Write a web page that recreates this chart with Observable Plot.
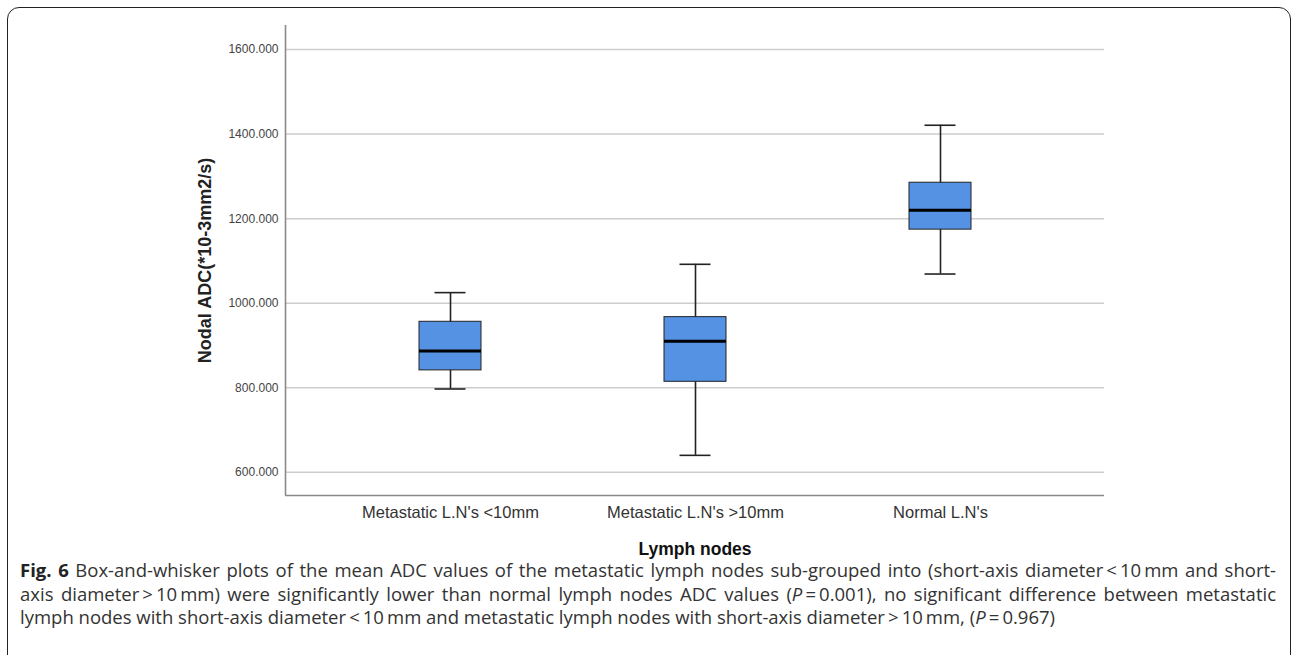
<!DOCTYPE html>
<html>
<head>
<meta charset="utf-8">
<script src="https://cdn.jsdelivr.net/npm/d3@7"></script>
<script src="https://cdn.jsdelivr.net/npm/@observablehq/plot@0.6"></script>
<style>
  html, body { margin: 0; padding: 0; background: #fff; overflow: hidden; }
  #page { position: relative; width: 1292px; height: 655px; overflow: hidden; }
  #border { position: absolute; left: 7px; top: 7px; width: 1284px; height: 680px;
            border: 1.6px solid #222; border-radius: 12px; box-sizing: border-box; }
  #chart { position: absolute; left: 0; top: 0; }
  #caption { position: absolute; left: 20px; top: 558px; width: 1256px;
             font-family: "Open Sans", "Noto Sans", sans-serif; font-size: 18.5px;
             line-height: 23.5px; color: #333; }
  #caption div { white-space: nowrap; }
  #caption .j { text-align: justify; text-align-last: justify; }
  #caption b { color: #222; }
</style>
</head>
<body>
<div id="page">
  <div id="border"></div>
  <div id="chart"></div>
  <div id="caption">
    <div class="j"><b>Fig. 6</b> Box-and-whisker plots of the mean ADC values of the metastatic lymph nodes sub-grouped into (short-axis diameter&thinsp;&lt;&thinsp;10&thinsp;mm and short-</div>
    <div class="j">axis diameter&thinsp;&gt;&thinsp;10&thinsp;mm) were significantly lower than normal lymph nodes ADC values (<i>P</i>&thinsp;=&thinsp;0.001), no significant difference between metastatic</div>
    <div>lymph nodes with short-axis diameter&thinsp;&lt;&thinsp;10&thinsp;mm and metastatic lymph nodes with short-axis diameter&thinsp;&gt;&thinsp;10&thinsp;mm, (<i>P</i>&thinsp;=&thinsp;0.967)</div>
  </div>
</div>
<script>
const groups = ["Metastatic L.N's <10mm", "Metastatic L.N's >10mm", "Normal L.N's"];
const mins    = [797, 640, 1069];
const q1s     = [841, 814, 1174];
const medians = [887, 910, 1220];
const q3s     = [956, 967, 1285];
const maxs    = [1025, 1092, 1421];
const yTicks  = [600, 800, 1000, 1200, 1400, 1600];
const yLabel  = "Nodal ADC(*10-3mm2/s)";
const xLabel  = "Lymph nodes";

const rows = groups.map((g, i) => ({group: g, min: mins[i], q1: q1s[i], median: medians[i], q3: q3s[i], max: maxs[i]}));
const yMin = 545, yMax = 1657;

const chart = Plot.plot({
  width: 1292,
  height: 560,
  marginLeft: 285,
  marginRight: 188,
  marginTop: 25,
  marginBottom: 65,
  style: {fontFamily: "'Liberation Sans', Arial, sans-serif", background: "transparent", color: "#333"},
  x: {domain: groups, paddingInner: 0.748, paddingOuter: 0.539, label: null},
  y: {domain: [yMin, yMax], label: null},
  marks: [
    Plot.gridY(yTicks, {stroke: "#cdcdcd", strokeOpacity: 1, strokeWidth: 1.5}),
    Plot.ruleY([yMin], {stroke: "#8a8a8a", strokeWidth: 1.6}),
    Plot.ruleX([0], {x: null, dx: -409.5, stroke: "#8a8a8a", strokeWidth: 1.6}),
    Plot.ruleX(rows, {x: "group", y1: "min", y2: "max", stroke: "#222", strokeWidth: 1.6}),
    Plot.tickY(rows, {x: "group", y: "min", insetLeft: 15.5, insetRight: 15.5, stroke: "#222", strokeWidth: 1.6}),
    Plot.tickY(rows, {x: "group", y: "max", insetLeft: 15.5, insetRight: 15.5, stroke: "#222", strokeWidth: 1.6}),
    Plot.barY(rows, {x: "group", y1: "q1", y2: "q3", fill: "#5592e3", stroke: "#222", strokeWidth: 1}),
    Plot.tickY(rows, {x: "group", y: "median", stroke: "#000", strokeWidth: 3}),
    Plot.axisY(yTicks, {tickSize: 0, tickPadding: 7, tickFormat: d => d.toFixed(3), fontSize: 12, fill: "#444", label: null}),
    Plot.axisX({tickSize: 0, tickPadding: 11, fontSize: 16.5, fill: "#333", label: null}),
    Plot.text([yLabel], {frameAnchor: "left", rotate: -90, dx: -80, textAnchor: "middle", fontWeight: "bold", fontSize: 18, fill: "#222", lineAnchor: "middle"}),
    Plot.text([xLabel], {frameAnchor: "bottom", dy: 54, textAnchor: "middle", fontWeight: "bold", fontSize: 17.5, fill: "#111", lineAnchor: "middle"})
  ]
});
document.getElementById("chart").appendChild(chart);
</script>
</body>
</html>
